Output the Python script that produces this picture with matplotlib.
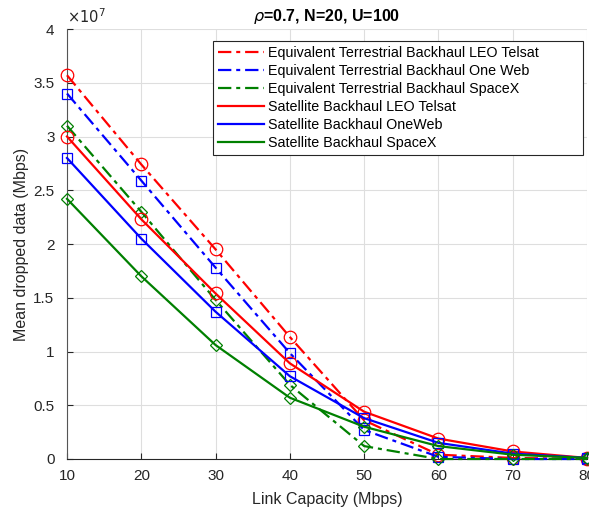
import matplotlib
matplotlib.use("Agg")
import matplotlib.pyplot as plt
from matplotlib.ticker import FuncFormatter, MultipleLocator

plt.rcParams['font.family'] = ['Liberation Sans', 'DejaVu Sans']

link_capacity = [10, 20, 30, 40, 50, 60, 70, 80]

terr_leo = [3.57e7, 2.74e7, 1.95e7, 1.135e7, 0.36e7, 0.04e7, 0.01e7, 0.0e7]
terr_oneweb = [3.40e7, 2.59e7, 1.78e7, 0.985e7, 0.27e7, 0.02e7, 0.0e7, 0.0e7]
terr_spacex = [3.10e7, 2.30e7, 1.48e7, 0.69e7, 0.12e7, 0.0e7, 0.0e7, 0.0e7]
sat_leo = [3.00e7, 2.23e7, 1.54e7, 0.89e7, 0.44e7, 0.19e7, 0.07e7, 0.01e7]
sat_oneweb = [2.80e7, 2.05e7, 1.37e7, 0.77e7, 0.38e7, 0.15e7, 0.05e7, 0.01e7]
sat_spacex = [2.42e7, 1.70e7, 1.06e7, 0.57e7, 0.30e7, 0.12e7, 0.04e7, 0.01e7]

labels = [
    "Equivalent Terrestrial Backhaul LEO Telsat",
    "Equivalent Terrestrial Backhaul One Web",
    "Equivalent Terrestrial Backhaul SpaceX",
    "Satellite Backhaul LEO Telsat",
    "Satellite Backhaul OneWeb",
    "Satellite Backhaul SpaceX",
]

RED = (1, 0, 0)
BLUE = (0, 0, 1)
GREEN = (0, 0.5, 0)

fig = plt.figure(figsize=(5.89, 5.09), dpi=100)
ax = fig.add_axes([67/589, 50/509, 520/589, 430/509])

dd = (6, 2.2, 1.8, 2.2)
series = [
    (terr_leo, RED, 'o', dd),
    (terr_oneweb, BLUE, 's', dd),
    (terr_spacex, GREEN, 'D', dd),
    (sat_leo, RED, 'o', None),
    (sat_oneweb, BLUE, 's', None),
    (sat_spacex, GREEN, 'D', None),
]
handles = []
for (vals, col, mk, dash), lab in zip(series, labels):
    ms = {'o': 9, 's': 7.5, 'D': 6.5}[mk]
    line, = ax.plot(link_capacity, vals, color=col, lw=1.6, marker=mk,
                    markersize=ms, markerfacecolor='none', markeredgecolor=col,
                    markeredgewidth=0.9, label=lab, clip_on=False, zorder=3)
    if dash is not None:
        line.set_dashes(dash)
    handles.append(line)

ax.set_xlim(10, 80)
ax.set_ylim(0, 4e7)
ax.xaxis.set_major_locator(MultipleLocator(10))
ax.yaxis.set_major_locator(MultipleLocator(0.5e7))
ax.yaxis.set_major_formatter(FuncFormatter(lambda v, p: "%g" % (v / 1e7)))
ax.text(0.0, 1.008, r"$\times10^{7}$", transform=ax.transAxes, ha='left', va='bottom',
        fontsize=10.5, color='#262626')

ax.grid(True, color='#dedede', lw=0.8)
ax.set_axisbelow(True)
for s in ['top', 'right']:
    ax.spines[s].set_visible(False)
ax.spines['left'].set_color('#555555')
ax.spines['bottom'].set_color('#262626')
ax.tick_params(direction='in', length=4, labelsize=11, colors='#262626',
               top=False, right=False)
ax.tick_params(axis='x', pad=7)
ax.tick_params(axis='y', pad=9)

ax.set_xlabel("Link Capacity (Mbps)", fontsize=11.5, color='#262626', labelpad=7)
ax.set_ylabel("Mean dropped data (Mbps)", fontsize=11.5, color='#262626', labelpad=3)
ax.set_title(r"$\rho$=0.7, N=20, U=100", fontsize=11.5, fontweight='bold', pad=6)

x0 = (213 - 67) / 520
x1 = (583 - 67) / 520
top = (459 - 41) / 430
leg = ax.legend(handles=[h for h in handles], labels=labels, loc='upper left',
                bbox_to_anchor=(x0, top - 0.3, x1 - x0, 0.3), mode='expand',
                fontsize=10.3, frameon=True,
                fancybox=False, edgecolor='#262626', framealpha=1,
                handlelength=3.2, handletextpad=0.3, labelspacing=0.28,
                borderpad=0.35, borderaxespad=0)
leg.get_frame().set_linewidth(0.8)
for h in leg.legend_handles:
    h.set_marker('')

fig.savefig("out.png", dpi=100)
